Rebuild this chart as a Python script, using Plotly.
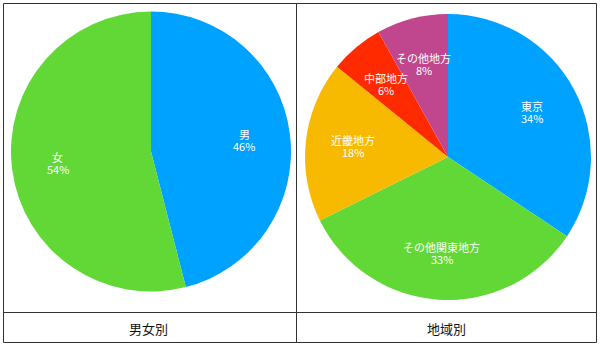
import math
import plotly.graph_objects as go

W, H = 600, 346

gender_labels = ["男", "女"]
gender_values = [46, 54]
gender_colors = ["#00A2FF", "#61D836"]

region_labels = ["東京", "その他関東地方", "近畿地方", "中部地方", "その他地方"]
region_values = [34, 33, 18, 6, 8]
region_colors = ["#00A2FF", "#61D836", "#F8BA00", "#FF2A00", "#C0478E"]

table_titles = ["男女別", "地域別"]

FONT = "Noto Sans CJK JP"
LABEL_R = 0.67  # label distance as fraction of radius
LINE_GAP = 6    # half the distance between the two label lines (px)


def px_dom(cx, cy, r):
    return dict(x=[(cx - r) / W, (cx + r) / W], y=[1 - (cy + r) / H, 1 - (cy - r) / H])


fig = go.Figure()
annotations = []

pies = [
    (gender_labels, gender_values, gender_colors, 151, 151.5, 140),
    (region_labels, region_values, region_colors, 448, 157, 143),
]
for labels, values, colors, cx, cy, r in pies:
    fig.add_trace(go.Pie(
        labels=labels, values=values, sort=False, direction="clockwise",
        rotation=0, marker=dict(colors=colors, line=dict(width=0)),
        textinfo="none", domain=px_dom(cx, cy, r), showlegend=False,
        hoverinfo="skip",
    ))
    total = sum(values)
    cum = 0
    for lab, v in zip(labels, values):
        mid = (cum + v / 2) / total * 2 * math.pi
        cum += v
        x = cx + LABEL_R * r * math.sin(mid)
        y = cy - LABEL_R * r * math.cos(mid)
        for txt, dy in ((lab, -LINE_GAP), (f"{v}%", LINE_GAP)):
            annotations.append(dict(
                text=txt, x=x / W, y=1 - (y + dy) / H, xref="paper", yref="paper",
                xanchor="center", yanchor="middle", showarrow=False,
                font=dict(family=FONT, size=11, color="white"),
            ))

line = dict(color="#333333", width=1)
shapes = [
    dict(type="rect", xref="paper", yref="paper", x0=3.5 / W, x1=596.5 / W,
         y0=1 - 342.5 / H, y1=1 - 3.5 / H, line=line),
    dict(type="line", xref="paper", yref="paper", x0=296.5 / W, x1=296.5 / W,
         y0=1 - 342.5 / H, y1=1 - 3.5 / H, line=line),
    dict(type="line", xref="paper", yref="paper", x0=3.5 / W, x1=596.5 / W,
         y0=1 - 312.5 / H, y1=1 - 312.5 / H, line=line),
]
for t, x in zip(table_titles, [148, 446]):
    annotations.append(dict(
        text=t, x=x / W, y=1 - 328 / H, xref="paper", yref="paper",
        xanchor="center", yanchor="middle", showarrow=False,
        font=dict(family=FONT, size=13, color="#111111"),
    ))

fig.update_layout(
    width=W, height=H, margin=dict(l=0, r=0, t=0, b=0),
    paper_bgcolor="white", plot_bgcolor="white",
    shapes=shapes, annotations=annotations,
)
fig.write_html("out.html")
